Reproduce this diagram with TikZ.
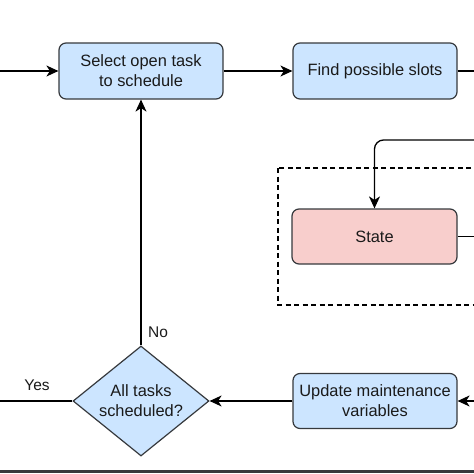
\documentclass[tikz,border=0pt]{standalone}
\usepackage{fontspec}
\setmainfont{Liberation Sans}
\usetikzlibrary{shapes.geometric,arrows.meta}
\definecolor{bluefill}{HTML}{CCE5FF}
\definecolor{pinkfill}{HTML}{F8CECC}
\definecolor{strokec}{HTML}{36393D}
\definecolor{txt}{HTML}{1A1A1A}
\begin{document}
\begin{tikzpicture}[x=1pt,y=-1pt,
  every node/.style={font=\fontsize{16.4}{20}\selectfont, text=txt},
  box/.style={draw=strokec, line width=1.2pt, rounded corners=7pt, align=center,
    minimum width=164pt, minimum height=56pt, inner sep=0pt},
  bluebox/.style={box, fill=bluefill},
  pinkbox/.style={box, fill=pinkfill},
  decision/.style={diamond, draw=strokec, line width=1.2pt, fill=bluefill, align=center,
    minimum width=136pt, minimum height=110pt, inner sep=0pt, aspect=1.236},
  conn/.style={draw=black, line width=1.3pt},
  arr/.style={conn, -{Stealth[length=12pt,width=11pt,inset=3.5pt]}},
  lbl/.style={font=\fontsize{15.5}{18}\selectfont}]
\useasboundingbox (0,0) rectangle (474,474);
% dashed group
\draw[dashed, dash pattern=on 5pt off 3.5pt, line width=1.2pt, draw=black] (278,168) rectangle (484,305);
% nodes
\node[bluebox] (sel) at (141,71) {Select open task\\to schedule};
\node[bluebox] (find) at (375,71) {Find possible slots};
\node[pinkbox, minimum width=165pt, minimum height=55pt] (state) at (374.5,236.5) {State};
\node[bluebox, minimum height=55pt] (upd) at (375,401) {Update maintenance\\variables};
\node[decision] (dia) at (141,401) {All tasks\\scheduled?};
% free ends
\coordinate (inL) at (-3,71);
\coordinate (findR) at (480,71);
\coordinate (topR) at (480,140);
\coordinate (stateR) at (480,236.5);
\coordinate (updR) at (480,401);
\coordinate (yesL) at (-3,401);
% connectors
\draw[arr] (inL) -- (sel.west);
\draw[arr] (sel.east) -- (find.west);
\draw[conn] (find.east) -- (findR);
\draw[arr, rounded corners=9pt] (topR) -| (state.north);
\draw[conn] (state.east) -- (stateR);
\draw[arr] (updR) -- (upd.east);
\draw[arr] (upd.west) -- (dia.east);
\draw[conn] (dia.west) -- (yesL);
\draw[arr] (dia.north) -- (sel.south);
% labels
\node[lbl] (no) at (158,332) {No};
\node[lbl] (yes) at (37,385) {Yes};
% bottom rule
\draw[line width=2.2pt, draw=strokec] (0,471.5) -- (474,471.5);
\end{tikzpicture}
\end{document}
